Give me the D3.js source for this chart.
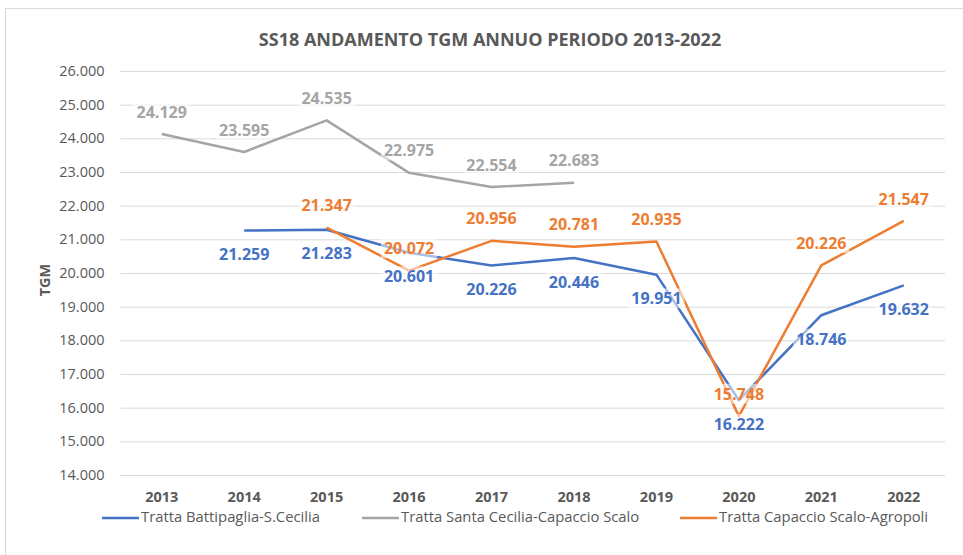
<!DOCTYPE html>
<html><head><meta charset="utf-8">
<script src="https://cdn.jsdelivr.net/npm/d3@7"></script>
<style>body{margin:0;background:#fff}svg{display:block;font-family:"Open Sans",sans-serif}</style>
</head><body><svg id="c" width="963" height="555"></svg>
<script>
const years = ["2013","2014","2015","2016","2017","2018","2019","2020","2021","2022"];
const seriesNames = ["Tratta Battipaglia-S.Cecilia","Tratta Santa Cecilia-Capaccio Scalo","Tratta Capaccio Scalo-Agropoli"];
const battipaglia = [null,21259,21283,20601,20226,20446,19951,16222,18746,19632];
const santaCecilia = [24129,23595,24535,22975,22554,22683,null,null,null,null];
const capaccio = [null,null,21347,20072,20956,20781,20935,15748,20226,21547];
const yTicks = [14000,15000,16000,17000,18000,19000,20000,21000,22000,23000,24000,25000,26000];
const colors = ["#4472C4","#A5A5A5","#ED7D31"];
const labelPos = ["below","above","above"];

const svg = d3.select("#c");
svg.append("rect").attr("x",5.5).attr("y",8.5).attr("width",970).attr("height",560)
  .attr("fill","#fff").attr("stroke","#D9D9D9");

const x = d3.scaleBand().domain(years).range([120.5,945]);
const y = d3.scaleLinear().domain([14000,26000]).range([475,71]);
const fmt = v => d3.format(",")(v).replace(/,/g,".");

svg.append("text").attr("x",490).attr("y",46).attr("text-anchor","middle")
  .attr("font-size",18).attr("font-weight","bold").attr("fill","#595959")
  .text("SS18 ANDAMENTO TGM ANNUO PERIODO 2013-2022");

const gy = svg.append("g").attr("transform","translate(120.5,0)")
  .call(d3.axisLeft(y).tickValues(yTicks).tickSize(-824.5).tickPadding(16).tickFormat(fmt));
gy.select(".domain").remove();
gy.selectAll(".tick line").attr("stroke","#D9D9D9").attr("stroke-width",1);
gy.selectAll(".tick text").attr("font-size",14.5).attr("fill","#595959").attr("font-family","Open Sans");

const gx = svg.append("g").attr("transform","translate(0,475)")
  .call(d3.axisBottom(x).tickSize(0).tickPadding(16.5));
gx.select(".domain").remove();
gx.selectAll(".tick text").attr("font-size",14.5).attr("font-weight","bold").attr("fill","#595959").attr("font-family","Open Sans");

svg.append("text").attr("transform","translate(50,280) rotate(-90)").attr("text-anchor","middle")
  .attr("font-size",14.5).attr("font-weight","bold").attr("fill","#595959").text("TGM");

const data = [battipaglia, santaCecilia, capaccio];
const cx = d => x(d) + x.bandwidth()/2;
const line = d3.line().defined(d => d.v != null).x(d => cx(d.yr)).y(d => y(d.v));
data.forEach((arr,i) => {
  const pts = years.map((yr,j) => ({yr, v: arr[j]}));
  svg.append("path").datum(pts).attr("d",line).attr("fill","none")
    .attr("stroke",colors[i]).attr("stroke-width",2.5).attr("stroke-linejoin","round");
});
data.forEach((arr,i) => {
  years.forEach((yr,j) => {
    const v = arr[j]; if (v == null) return;
    const ly = y(v) + (labelPos[i]==="below" ? 24 : -22);
    const g = svg.append("g");
    const t = g.append("text").attr("x",cx(yr)).attr("y",ly).attr("dy","0.35em")
      .attr("text-anchor","middle").attr("font-size",16).attr("font-weight","bold")
      .attr("fill",colors[i]).text(fmt(v));
    const bb = t.node().getBBox();
    g.insert("rect","text").attr("x",bb.x-3).attr("y",bb.y+1).attr("width",bb.width+6).attr("height",bb.height-2)
      .attr("fill","#fff").attr("opacity",0.55);
  });
});

const leg = svg.append("g").attr("transform","translate(0,518)");
const legX = [102,362,680];
seriesNames.forEach((n,i) => {
  leg.append("line").attr("x1",legX[i]).attr("x2",legX[i]+37).attr("y1",0).attr("y2",0)
    .attr("stroke",colors[i]).attr("stroke-width",2.5);
  leg.append("text").attr("x",legX[i]+39).attr("y",0).attr("dy","0.3em")
    .attr("font-size",14.8).attr("fill","#595959").text(n);
});
</script></body></html>
